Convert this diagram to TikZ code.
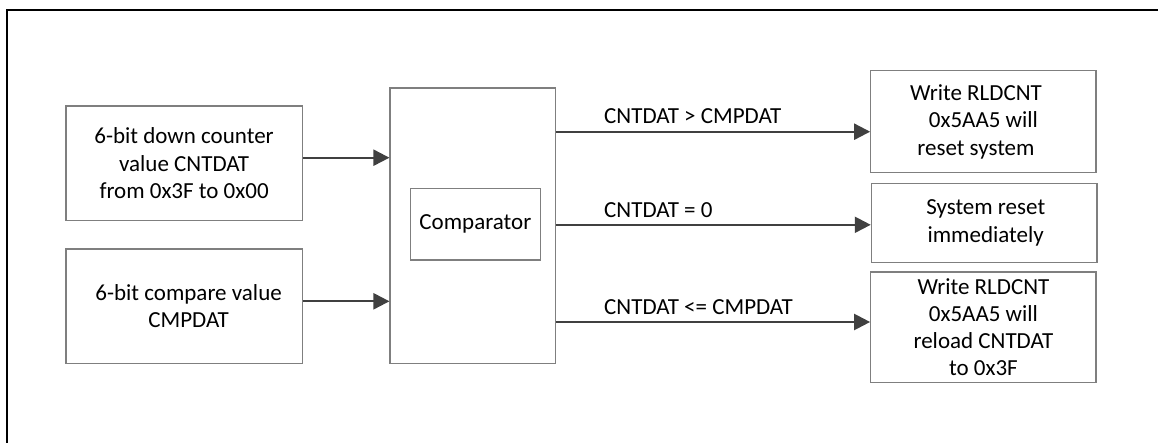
\documentclass[tikz,border=0pt]{standalone}
\usepackage{fontspec}
\setmainfont{Carlito}
\usetikzlibrary{arrows.meta}
\definecolor{boxgray}{HTML}{7F7F7F}
\definecolor{arrgray}{HTML}{404040}
\begin{document}
\begin{tikzpicture}[x=1pt,y=-1pt,
  every node/.style={font=\fontsize{23}{27.3}\selectfont, text=black},
  blk/.style={draw=boxgray, line width=1.2pt, rectangle, inner sep=0pt, align=center},
  arr/.style={draw=arrgray, line width=2.2pt, -{Triangle[length=16pt,width=16pt]}},
  lbl/.style={anchor=base west, inner sep=0pt}]
\useasboundingbox (0,0) rectangle (1158,443);
\draw[line width=1.7pt] (6.7,443) -- (6.7,10.2) -- (1158,10.2);
% left boxes
\node[blk, minimum width=236.4pt, minimum height=114.3pt] (cnt) at (184.1,163.15)
  {6-bit down counter\\value CNTDAT\\from 0x3F to 0x00};
\node[blk, minimum width=236.4pt, minimum height=114.7pt] (cmp) at (184.1,306.35)
  {\hspace*{9pt}6-bit compare value\\\hspace*{9pt}CMPDAT};
% comparator block
\node[blk, minimum width=165.3pt, minimum height=275.7pt] (big) at (472.7,225.9) {};
\node[blk, minimum width=129.4pt, minimum height=71.7pt] (comp) at (475.4,224.1) {Comparator};
% right boxes
\node[blk, minimum width=225.3pt, minimum height=102pt] (r1) at (983.4,121.7)
  {Write RLDCNT\hspace*{15pt}\\0x5AA5 will\hspace*{15pt}\\reset system\hspace*{15pt}};
\node[blk, minimum width=225.7pt, minimum height=79pt] (r2) at (984.2,222.8)
  {\hspace*{3pt}System reset\\\hspace*{3pt}immediately};
\node[blk, minimum width=225.3pt, minimum height=110.3pt] (r3) at (983.4,327.2)
  {Write RLDCNT\\0x5AA5 will\\reload CNTDAT\\to 0x3F};
% input arrows
\draw[arr] ([yshift=5.45pt]cnt.east) -- ([yshift=5.45pt]cnt.east -| big.west);
\draw[arr] ([yshift=5.05pt]cmp.east) -- ([yshift=5.05pt]cmp.east -| big.west);
% output arrows
\draw[arr] ([yshift=-10pt]r1.west -| big.east) -- ([yshift=-10pt]r1.west);
\draw[arr] ([yshift=-2pt]r2.west -| big.east) -- ([yshift=-2pt]r2.west);
\draw[arr] ([yshift=5.2pt]r3.west -| big.east) -- ([yshift=5.2pt]r3.west);
% labels
\node[lbl] (l1) at (604,124) {CNTDAT > CMPDAT};
\node[lbl] (l2) at (604,217.3) {CNTDAT = 0};
\node[lbl] (l3) at (604,314.3) {CNTDAT <= CMPDAT};
\end{tikzpicture}
\end{document}
